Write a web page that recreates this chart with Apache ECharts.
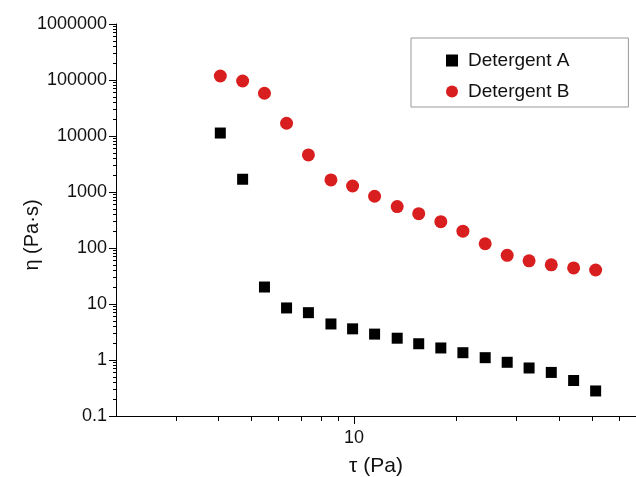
<!DOCTYPE html>
<html lang="en">
<head>
<meta charset="UTF-8">
<style>
    html, body { margin: 0; height: 100%; background: #fff; }
    #chart { width: 636px; height: 477px; }
</style>
</head>
<body>
<div id="chart"></div>
<script src="https://cdn.jsdelivr.net/npm/echarts@6/dist/echarts.min.js"></script>
<script>
    // shear stress (Pa), shared by both series
    var tau = [4.05, 4.71, 5.46, 6.34, 7.35, 8.56, 9.91, 11.5, 13.4, 15.5, 18.0, 20.9, 24.3, 28.2, 32.7, 38.0, 44.2, 51.3];
    // viscosity (Pa.s)
    var detergentA = [11300, 1690, 20.1, 8.5, 7.0, 4.4, 3.6, 2.9, 2.45, 1.95, 1.64, 1.35, 1.1, 0.91, 0.72, 0.6, 0.43, 0.28];
    var detergentB = [118000, 96000, 58000, 16900, 4600, 1640, 1280, 840, 550, 410, 295, 200, 119, 74, 59, 50, 44, 40.5];

    var xRange = [2, 67.4];
    var yRange = [0.1, 1000000];
    var xMajorTicks = [10];
    var xMinorTicks = [3, 4, 5, 6, 7, 8, 9, 20, 30, 40, 50, 60];
    var yTicks = [0.1, 1, 10, 100, 1000, 10000, 100000, 1000000];

    var lg = Math.log10;
    var yMinorTicks = [];
    for (var d = 0; d < yTicks.length - 1; d++) {
        for (var m = 2; m <= 9; m++) yMinorTicks.push(lg(yTicks[d] * m));
    }

    function fmt(v) {
        return String(+Math.pow(10, v).toPrecision(6));
    }

    var font = 'Liberation Sans, Arial, sans-serif';
    var black = '#000';

    var myChart = echarts.init(document.getElementById('chart'));
    myChart.setOption({
        animation: false,
        grid: { left: 116, right: 0, top: 24, bottom: 61, containLabel: false, outerBoundsMode: 'none' },
        legend: {
            orient: 'vertical',
            left: 411,
            top: 38,
            padding: [13, 59, 6, 35],
            itemGap: 12,
            itemWidth: 12,
            itemHeight: 12,
            borderColor: '#999',
            borderWidth: 1,
            textStyle: { fontFamily: font, fontSize: 19, color: '#111', padding: [0, 0, 0, 5] },
            data: ['Detergent A', 'Detergent B']
        },
        xAxis: [
            {
                type: 'value',
                min: lg(xRange[0]),
                max: lg(xRange[1]),
                name: 'τ (Pa)',
                nameLocation: 'middle',
                nameGap: 40,
                nameMoveOverlap: false,
                nameTextStyle: { fontFamily: font, fontSize: 21, color: '#111' },
                axisLine: { onZero: false, lineStyle: { color: black, width: 1 } },
                axisTick: { length: 8, lineStyle: { color: black }, customValues: xMajorTicks.map(lg) },
                axisLabel: { margin: 13, fontFamily: font, fontSize: 18, color: '#111', customValues: xMajorTicks.map(lg), formatter: fmt },
                splitLine: { show: false }
            },
            {
                type: 'value',
                position: 'bottom',
                min: lg(xRange[0]),
                max: lg(xRange[1]),
                axisLine: { show: false, onZero: false },
                axisTick: { length: 5, lineStyle: { color: black }, customValues: xMinorTicks.map(lg) },
                axisLabel: { show: false },
                splitLine: { show: false }
            }
        ],
        yAxis: [
            {
                type: 'value',
                position: 'left',
                min: lg(yRange[0]),
                max: lg(yRange[1]),
                name: 'η (Pa·s)',
                nameLocation: 'middle',
                nameGap: 74,
                nameMoveOverlap: false,
                nameTextStyle: { fontFamily: font, fontSize: 20, color: '#111', padding: [0, 30, 0, 0] },
                axisLine: { show: true, onZero: false, lineStyle: { color: black, width: 1 } },
                axisTick: { show: true, length: 7, lineStyle: { color: black }, customValues: yTicks.map(lg) },
                axisLabel: { margin: 9, fontFamily: font, fontSize: 18, color: '#111', customValues: yTicks.map(lg), formatter: fmt },
                splitLine: { show: false }
            },
            {
                type: 'value',
                position: 'left',
                min: lg(yRange[0]),
                max: lg(yRange[1]),
                axisLine: { show: false, onZero: false },
                axisTick: { show: true, length: 3, lineStyle: { color: black }, customValues: yMinorTicks },
                axisLabel: { show: false },
                splitLine: { show: false }
            }
        ],
        series: [
            {
                name: 'Detergent A',
                type: 'scatter',
                symbol: 'rect',
                symbolSize: 11,
                itemStyle: { color: '#000', opacity: 1 },
                data: tau.map(function (t, i) { return [lg(t), lg(detergentA[i])]; })
            },
            {
                name: 'Detergent B',
                type: 'scatter',
                symbol: 'circle',
                symbolSize: 13,
                itemStyle: { color: '#d81e1e', opacity: 1 },
                data: tau.map(function (t, i) { return [lg(t), lg(detergentB[i])]; })
            }
        ]
    });
</script>
</body>
</html>
